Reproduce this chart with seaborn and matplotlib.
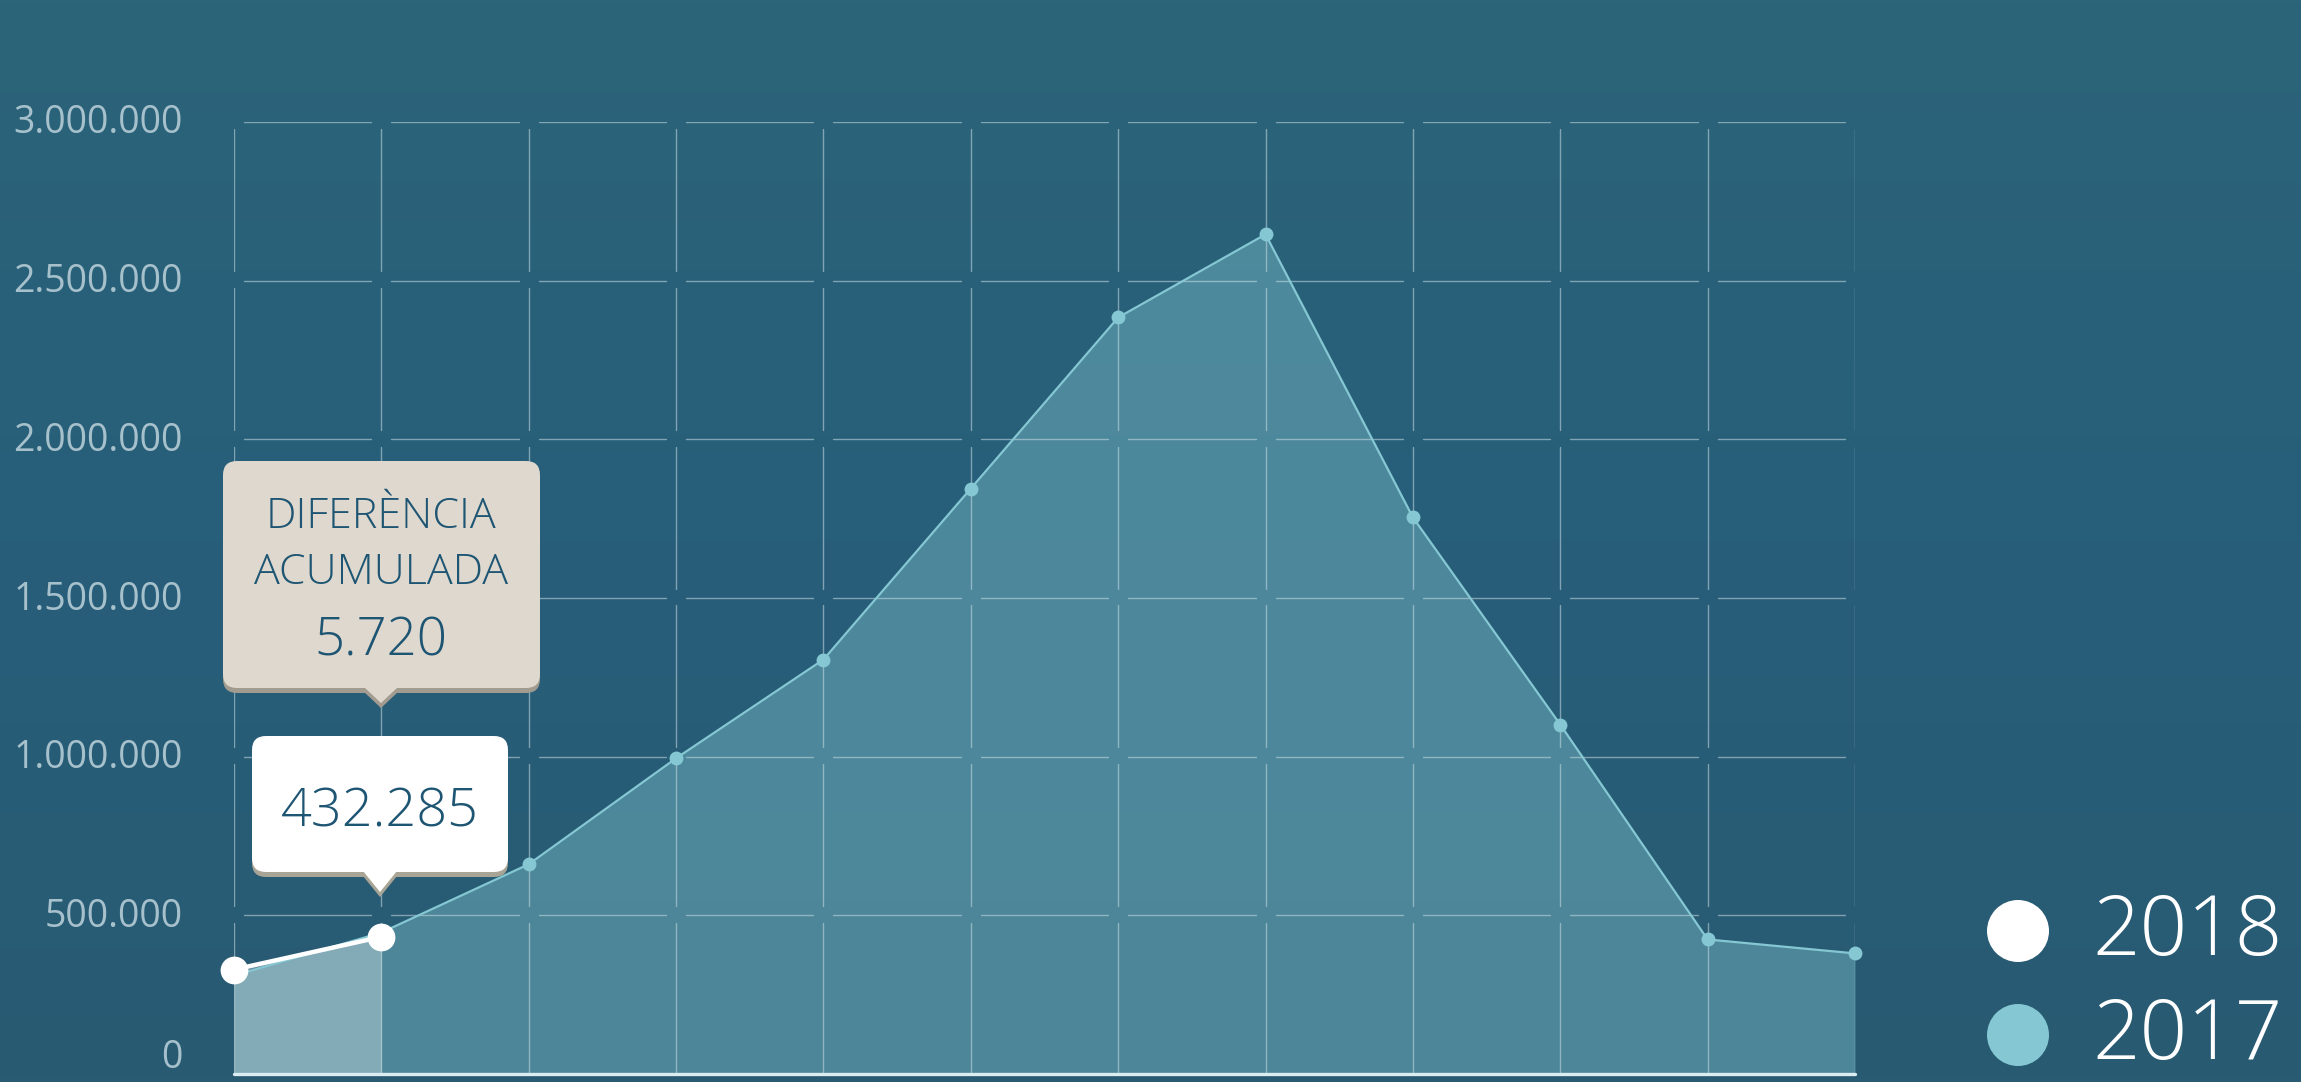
import numpy as np
import pandas as pd
import seaborn as sns
import matplotlib.pyplot as plt
from matplotlib.patches import FancyBboxPatch, Polygon, Circle
from matplotlib.transforms import IdentityTransform, ScaledTranslation
from matplotlib.colors import LinearSegmentedColormap

months = ["gen", "feb", "mar", "abr", "mai", "jun", "jul", "ago", "set", "oct", "nov", "des"]
visits_2017 = [310000, 445565, 661000, 995000, 1306000, 1845000, 2384000, 2646000, 1754000, 1101000, 424000, 380000]
visits_2018 = [329000, 432285]
ytick_values = [0, 500000, 1000000, 1500000, 2000000, 2500000, 3000000]
ytick_labels = ["0", "500.000", "1.000.000", "1.500.000", "2.000.000", "2.500.000", "3.000.000"]
tooltip_title = ["DIFERÈNCIA", "ACUMULADA"]
tooltip_diff = "5.720"
tooltip_value = "432.285"
series_names = ["2018", "2017"]

sns.set_style("white")
plt.rcParams["font.family"] = ["Open Sans", "DejaVu Sans"]

W, H = 2301, 1082
fig = plt.figure(figsize=(W / 100, H / 100), dpi=100)

# gradient background
bg = fig.add_axes([0, 0, 1, 1], zorder=-10)
cmap = LinearSegmentedColormap.from_list("bg", ["#2c6479", "#275e7a", "#295b72"])
bg.imshow(np.linspace(0, 1, 256).reshape(-1, 1), aspect="auto", cmap=cmap, extent=[0, 1, 0, 1])
bg.axis("off")

left, right, top, bottom = 234, 1855, 122, 1074
ax = fig.add_axes([left / W, 1 - bottom / H, (right - left) / W, (bottom - top) / H])
ax.set_facecolor("none")

df17 = pd.DataFrame({"pos": range(len(visits_2017)), "v": visits_2017})
df18 = pd.DataFrame({"pos": range(len(visits_2018)), "v": visits_2018})

ax.set_xlim(0, len(months) - 1)
ax.set_ylim(0, 3000000)

# grid with gaps at crossings
gx, gy = 0.068, 29000
grid_kw = dict(color="#c9dde4", alpha=0.55, lw=1.0, zorder=3)
for yv in ytick_values[1:]:
    for i in range(len(months) - 1):
        ax.plot([i + gx, i + 1 - gx], [yv, yv], **grid_kw)
for i in range(len(months)):
    for j in range(len(ytick_values) - 1):
        lo = ytick_values[j] + (gy if j > 0 else 0)
        ax.plot([i, i], [lo, ytick_values[j + 1] - gy * 0.8], **grid_kw)

c17 = "#85c8d3"
ax.fill_between(df17["pos"], df17["v"], color=c17, alpha=0.4, lw=0, zorder=2)
ax.fill_between(df18["pos"], df18["v"], color="white", alpha=0.3, lw=0, zorder=2)

sns.lineplot(data=df17, x="pos", y="v", ax=ax, color=c17, lw=1.6, marker="o",
             markersize=10, markeredgewidth=0, zorder=5, clip_on=False)
sns.lineplot(data=df18, x="pos", y="v", ax=ax, color="white", lw=3.2, marker="o",
             markersize=20, markeredgewidth=0, zorder=6, clip_on=False)
ax.axhline(0, color="#dcedf1", lw=2.4, zorder=4, clip_on=False)

ax.set_xticks([])
ax.set_yticks(ytick_values)
ax.set_yticklabels(ytick_labels, fontsize=27, color="#a6c1cc")
ax.tick_params(axis="y", length=0, pad=37)
for lab, val in zip(ax.get_yticklabels(), ytick_values):
    dy = 20 if val == 0 else 3
    lab.set_transform(lab.get_transform() + ScaledTranslation(0, dy / 100, fig.dpi_scale_trans))
ax.set_xlabel("")
ax.set_ylabel("")
sns.despine(ax=ax, left=True, bottom=True)

# tooltips in pixel space (y measured from top)
ident = IdentityTransform()
txt_col = "#1d5573"


def tooltip(x0, x1, y0, y1, tip_x, tip_y, face, shade):
    for dy, col in [(5, shade), (0, face)]:
        fig.patches.append(FancyBboxPatch((x0, H - y1 - dy), x1 - x0, y1 - y0,
                                          boxstyle="round,pad=0,rounding_size=14",
                                          fc=col, ec="none", transform=ident, zorder=20))
        fig.patches.append(Polygon([(tip_x - 17, H - y1 - dy + 1), (tip_x + 17, H - y1 - dy + 1),
                                    (tip_x, H - tip_y - dy)], closed=True, fc=col, ec="none",
                                   transform=ident, zorder=20))


tooltip(223, 540, 461, 688, 381, 703, "#dfd8ce", "#a29c90")
tooltip(252, 508, 736, 872, 380, 892, "#ffffff", "#a8a496")

tt_kw = dict(ha="center", va="center", color=txt_col, fontweight="light", zorder=30)
fig.text(381 / W, 1 - 517 / H, tooltip_title[0], fontsize=31, **tt_kw)
fig.text(381 / W, 1 - 573 / H, tooltip_title[1], fontsize=31, **tt_kw)
fig.text(381 / W, 1 - 642 / H, tooltip_diff, fontsize=38, **tt_kw)
fig.text(380 / W, 1 - 813 / H, tooltip_value, fontsize=39, **tt_kw)

# legend
for k, (name, col) in enumerate(zip(series_names, ["white", c17])):
    cy = 931 + k * 104
    fig.patches.append(Circle((2018, H - cy), 31, fc=col, ec="none", transform=ident, zorder=20))
    fig.text(2092 / W, 1 - (cy + 3) / H, name, ha="left", va="center", fontsize=60,
             color="white", fontweight="light", zorder=30)

fig.savefig("out.png", dpi=100)
